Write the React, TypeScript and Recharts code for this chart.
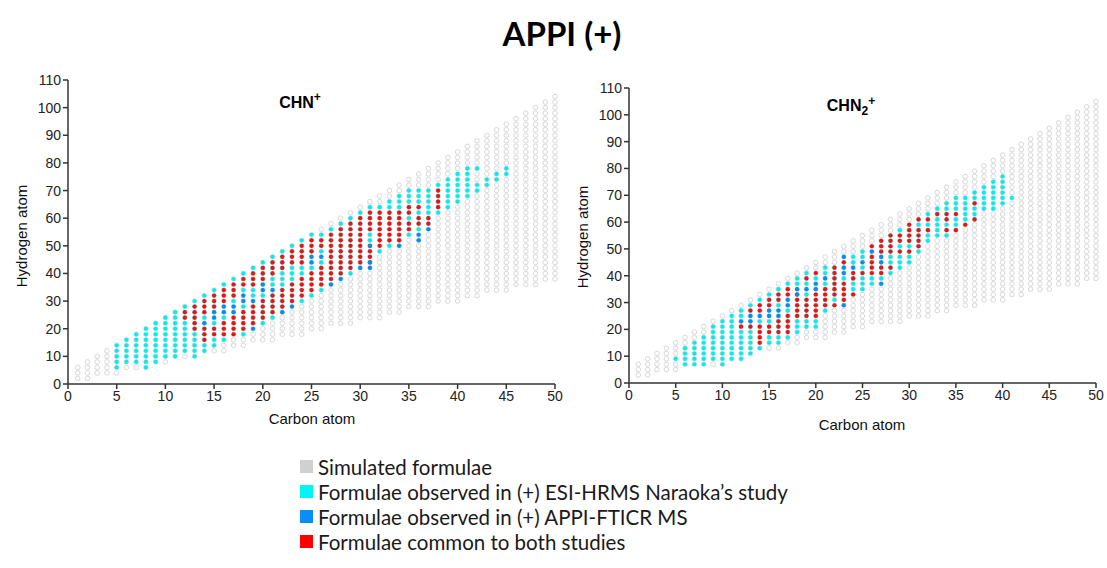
import React from 'react';
import { ScatterChart, Scatter, XAxis, YAxis } from 'recharts';

// carbon numbers of the simulated grid columns
const carbons = [
  1, 2, 3, 4, 5, 6, 7, 8, 9, 10, 11, 12, 13, 14, 15, 16, 17, 18, 19, 20, 21, 22, 23, 24, 25,
  26, 27, 28, 29, 30, 31, 32, 33, 34, 35, 36, 37, 38, 39, 40, 41, 42, 43, 44, 45, 46, 47, 48, 49, 50,
];

// CHN+ simulated hydrogen range per carbon column (step 2)
const simLowL = [
  2, 2, 4, 4, 4, 6, 6, 6, 8, 8, 10, 10, 10, 12, 12, 12, 14, 14, 16, 16, 16, 18, 18, 18, 20,
  20, 22, 22, 22, 24, 24, 24, 26, 26, 28, 28, 28, 30, 30, 30, 32, 32, 34, 34, 34, 36, 36, 36, 38, 38,
];
const simHighL = [
  6, 8, 10, 12, 14, 16, 18, 20, 22, 24, 26, 28, 30, 32, 34, 36, 38, 40, 42, 44, 46, 48, 50, 52, 54,
  56, 58, 60, 62, 64, 66, 68, 70, 72, 74, 76, 78, 80, 82, 84, 86, 88, 90, 92, 94, 96, 98, 100, 102, 104,
];

// CHN2+ simulated hydrogen range per carbon column
const simLowR = [
  3, 3, 5, 5, 5, 7, 7, 7, 7, 7, 9, 9, 11, 13, 13, 13, 15, 15, 17, 17, 17, 19, 19, 21, 21,
  23, 23, 23, 23, 25, 25, 25, 27, 27, 29, 29, 29, 31, 31, 31, 33, 33, 35, 35, 35, 37, 37, 37, 39, 39,
];
const simHighR = [
  7, 9, 11, 13, 15, 17, 19, 21, 23, 25, 27, 29, 31, 33, 35, 37, 39, 41, 43, 45, 47, 49, 51, 53, 55,
  57, 59, 61, 63, 65, 67, 69, 71, 73, 75, 77, 79, 81, 83, 85, 87, 89, 91, 93, 95, 97, 99, 101, 103, 105,
];

// [carbon, hMin, hMax] runs of observed formulae
const cyanL = [
  [5, 6, 14], [6, 8, 16], [7, 8, 18], [8, 6, 20], [9, 8, 22], [10, 10, 24], [11, 10, 26], [12, 12, 28],
  [13, 10, 30], [14, 12, 32], [15, 14, 34], [16, 16, 36], [17, 18, 38], [18, 18, 40], [19, 20, 42],
  [20, 22, 44], [21, 24, 46], [22, 26, 48], [23, 28, 50], [24, 30, 52], [25, 32, 54], [26, 34, 54],
  [27, 36, 56], [28, 38, 58], [29, 40, 60], [30, 42, 62], [31, 42, 64], [32, 48, 64], [33, 50, 66],
  [34, 50, 68], [35, 54, 70], [36, 52, 70], [37, 56, 70], [38, 62, 72], [39, 64, 74], [40, 66, 76],
  [41, 68, 78], [42, 70, 72], [42, 78, 78], [43, 72, 74], [44, 74, 76], [45, 76, 78],
];
const redL = [
  [12, 24, 26], [13, 20, 28], [14, 16, 20], [14, 26, 30], [15, 18, 20], [15, 28, 32], [16, 18, 22],
  [16, 30, 34], [17, 18, 24], [17, 32, 36], [18, 20, 26], [18, 36, 38], [19, 22, 28], [19, 36, 40],
  [20, 24, 30], [20, 38, 42], [21, 26, 32], [21, 40, 44], [22, 28, 34], [22, 42, 46], [23, 30, 36],
  [23, 44, 48], [24, 32, 38], [24, 44, 50], [25, 34, 40], [25, 48, 52], [26, 36, 42], [26, 50, 52],
  [27, 38, 54], [28, 40, 56], [29, 42, 58], [30, 44, 60], [31, 44, 50], [31, 56, 62], [32, 50, 62],
  [33, 52, 62], [34, 52, 62], [35, 56, 58], [35, 62, 64], [36, 58, 60], [36, 64, 64], [37, 58, 60],
  [38, 64, 70],
];
const blueL = [
  [14, 22], [15, 24], [15, 26], [16, 26], [16, 28], [17, 26], [17, 28], [18, 30], [18, 32], [19, 30],
  [19, 20], [20, 34], [20, 36], [21, 34], [22, 26], [23, 28], [25, 44], [25, 46], [26, 46], [27, 36],
  [28, 38], [30, 42], [31, 42], [31, 44], [31, 50], [34, 50], [36, 52], [36, 54], [37, 56],
];

const cyanR = [
  [5, 9, 9], [6, 7, 13], [7, 7, 15], [8, 7, 17], [9, 9, 21], [10, 7, 23], [11, 9, 25], [12, 9, 27],
  [13, 11, 29], [14, 13, 31], [15, 15, 33], [16, 15, 35], [17, 17, 37], [18, 19, 39], [19, 21, 41],
  [20, 21, 41], [21, 27, 43], [22, 29, 43], [23, 29, 47], [24, 33, 47], [25, 35, 49], [26, 37, 51],
  [27, 37, 53], [28, 41, 55], [29, 43, 57], [30, 45, 59], [31, 49, 61], [32, 53, 63], [33, 55, 65],
  [34, 55, 67], [35, 57, 69], [36, 59, 69], [37, 61, 71], [38, 65, 73], [39, 65, 75], [40, 67, 77],
  [41, 69, 69],
];
const redR = [
  [12, 21, 21], [13, 21, 21], [13, 27, 27], [14, 15, 21], [14, 27, 29], [15, 19, 21], [15, 29, 31],
  [16, 19, 23], [16, 31, 33], [17, 19, 25], [17, 33, 35], [18, 25, 33], [19, 25, 31], [19, 39, 39],
  [20, 25, 33], [20, 41, 41], [21, 29, 35], [22, 29, 29], [22, 33, 43], [23, 31, 37], [23, 45, 45],
  [24, 33, 33], [24, 39, 41], [25, 41, 41], [26, 41, 47], [26, 51, 51], [27, 41, 43], [27, 49, 53],
  [28, 43, 43], [28, 49, 55], [29, 49, 49], [29, 53, 55], [30, 49, 49], [30, 53, 59], [31, 51, 57],
  [31, 61, 61], [32, 57, 57], [32, 61, 61], [33, 63, 63], [34, 57, 57], [34, 61, 63], [35, 57, 57],
  [35, 63, 63], [36, 59, 59], [37, 61, 61], [37, 67, 67],
];
const blueR = [
  [12, 23], [13, 23], [13, 25], [14, 25], [15, 25], [15, 27], [16, 25], [16, 27], [17, 29], [17, 31],
  [18, 33], [18, 35], [19, 35], [20, 35], [20, 37], [21, 39], [23, 29], [23, 41], [23, 43], [23, 47],
  [24, 43], [25, 45], [26, 49], [27, 37], [27, 45], [27, 47],
];

const xTicks = [0, 5, 10, 15, 20, 25, 30, 35, 40, 45, 50];
const yTicks = [0, 10, 20, 30, 40, 50, 60, 70, 80, 90, 100, 110];

const legendItems = [
  { label: 'Simulated formulae', color: '#d0d0d0' },
  { label: 'Formulae observed in (+) ESI-HRMS Naraoka\u2019s study', color: '#00f4f4' },
  { label: 'Formulae observed in (+) APPI-FTICR MS', color: '#0a8ef5' },
  { label: 'Formulae common to both studies', color: '#ff0000' },
];

const CYAN = '#00eef0';
const BLUE = '#1088f0';
const RED = '#f21010';

const gridPoints = (low: number[], high: number[]) => {
  const pts: { c: number; h: number }[] = [];
  carbons.forEach((c, i) => {
    for (let h = low[i]; h <= high[i]; h += 2) pts.push({ c, h });
  });
  return pts;
};

const runPoints = (runs: number[][]) => {
  const pts: { c: number; h: number }[] = [];
  runs.forEach(([c, lo, hi]) => {
    for (let h = lo; h <= hi; h += 2) pts.push({ c, h });
  });
  return pts;
};

const ring = (p: any) => (
  <circle cx={p.cx} cy={p.cy} r={2.3} fill="#fff" stroke="#d8d8d8" strokeWidth={1} />
);
const dot = (color: string) => (p: any) => <circle cx={p.cx} cy={p.cy} r={2.1} fill={color} />;

const tickStyle = { fontFamily: 'Liberation Sans, Arial, sans-serif', fontSize: 14, fill: '#222' };
const axisColor = '#333';

const Panel = ({ left, width, margin, yWidth, sim, cyan, red, blue }: any) => (
  <div style={{ position: 'absolute', left, top: 0 }}>
    <ScatterChart width={width} height={440} margin={margin}>
      <XAxis
        type="number"
        dataKey="c"
        domain={[0, 50]}
        ticks={xTicks}
        interval={0}
        height={50}
        tickSize={5}
        tick={tickStyle}
        axisLine={{ stroke: axisColor, strokeWidth: 1.5 }}
        tickLine={{ stroke: axisColor, strokeWidth: 1.5 }}
      />
      <YAxis
        type="number"
        dataKey="h"
        domain={[0, 110]}
        ticks={yTicks}
        interval={0}
        width={yWidth}
        tickSize={5}
        tick={tickStyle}
        axisLine={{ stroke: axisColor, strokeWidth: 1.5 }}
        tickLine={{ stroke: axisColor, strokeWidth: 1.5 }}
      />
      <Scatter data={sim} shape={ring} isAnimationActive={false} />
      <Scatter data={cyan} shape={dot(CYAN)} isAnimationActive={false} />
      <Scatter data={red} shape={dot(RED)} isAnimationActive={false} />
      <Scatter data={blue} shape={dot(BLUE)} isAnimationActive={false} />
    </ScatterChart>
  </div>
);

const abs = (x: number, y: number, extra: React.CSSProperties = {}): React.CSSProperties => ({
  position: 'absolute',
  left: x,
  top: y,
  transform: 'translate(-50%, -50%)',
  whiteSpace: 'nowrap',
  ...extra,
});

const labelFont: React.CSSProperties = {
  fontFamily: 'Liberation Sans, Arial, sans-serif',
  fontSize: 15,
  color: '#111',
};
const formulaFont: React.CSSProperties = {
  fontFamily: 'Liberation Sans, Arial, sans-serif',
  fontSize: 16,
  fontWeight: 'bold',
  color: '#000',
};

export default function App() {
  const simL = gridPoints(simLowL, simHighL);
  const simR = gridPoints(simLowR, simHighR);
  return (
    <div style={{ position: 'relative', width: 1107, height: 568, background: '#fff', overflow: 'hidden' }}>
      <style>{'body{margin:0}'}</style>
      <div style={abs(562, 33, { fontFamily: 'Lato, sans-serif', fontWeight: 'bold', fontSize: 33, color: '#000' })}>
        APPI (+)
      </div>

      <Panel
        left={0}
        width={570}
        margin={{ top: 80, right: 15, bottom: 6, left: 0 }}
        yWidth={68}
        sim={simL}
        cyan={runPoints(cyanL)}
        red={runPoints(redL)}
        blue={blueL.map(([c, h]) => ({ c, h }))}
      />
      <Panel
        left={560}
        width={547}
        margin={{ top: 88, right: 11, bottom: 7, left: 0 }}
        yWidth={69}
        sim={simR}
        cyan={runPoints(cyanR)}
        red={runPoints(redR)}
        blue={blueR.map(([c, h]) => ({ c, h }))}
      />

      <div style={abs(300, 101, formulaFont)}>
        CHN<sup style={{ fontSize: 12 }}>+</sup>
      </div>
      <div style={abs(851, 106, formulaFont)}>
        CHN<sub style={{ fontSize: 12 }}>2</sub>
        <sup style={{ fontSize: 12 }}>+</sup>
      </div>

      <div style={abs(21, 236, { ...labelFont, transform: 'translate(-50%, -50%) rotate(-90deg)' })}>Hydrogen atom</div>
      <div style={abs(312, 418, labelFont)}>Carbon atom</div>
      <div style={abs(582, 237, { ...labelFont, transform: 'translate(-50%, -50%) rotate(-90deg)' })}>Hydrogen atom</div>
      <div style={abs(862, 424, labelFont)}>Carbon atom</div>

      <div style={{ position: 'absolute', left: 300, top: 454 }}>
        {legendItems.map((item) => (
          <div key={item.label} style={{ display: 'flex', alignItems: 'center', height: 25 }}>
            <div style={{ width: 13, height: 13, background: item.color, marginRight: 5 }} />
            <span style={{ fontFamily: 'Lato, sans-serif', fontSize: 20.5, color: '#1a1a1a' }}>{item.label}</span>
          </div>
        ))}
      </div>
    </div>
  );
}
